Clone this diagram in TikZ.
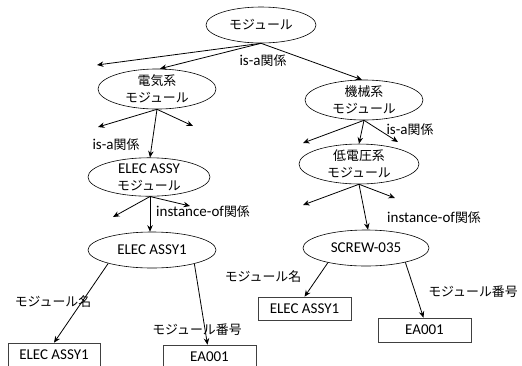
\documentclass[tikz,border=0pt]{standalone}
\usepackage{fontspec}
\setmainfont{Carlito}
\newfontfamily\jpfont[Scale=0.86]{Noto Sans CJK JP}
\newcommand\jt[1]{{\jpfont #1}}
\usetikzlibrary{shapes.geometric,arrows.meta}
\begin{document}
\begin{tikzpicture}[x=1pt,y=-1pt,
  every node/.style={font=\fontsize{15}{17}\selectfont},
  cls/.style={ellipse,draw,line width=0.6pt,inner sep=0pt,align=center},
  slot/.style={rectangle,draw=black!75,line width=0.6pt,minimum width=93pt,minimum height=23pt,inner sep=0pt},
  rel/.style={line width=0.8pt,-{Stealth[length=6.5pt,width=5.5pt]}},
  lbl/.style={inner sep=0pt}]
\useasboundingbox (0,0) rectangle (522,365);

% class hierarchy
\node[cls,minimum width=110pt,minimum height=36pt] (top) at (261,25) {\jt{モジュール}};
\node[cls,minimum width=118pt,minimum height=36pt] (elec) at (157,89) {\jt{電気系}\\\jt{モジュール}};
\node[cls,minimum width=118pt,minimum height=36pt] (mech) at (364,100) {\jt{機械系}\\\jt{モジュール}};
\node[cls,minimum width=122pt,minimum height=34pt] (assy) at (149,177) {ELEC ASSY\\\jt{モジュール}};
\node[cls,minimum width=120pt,minimum height=36pt] (lowv) at (359,164) {\jt{低電圧系}\\\jt{モジュール}};

% instances
\node[cls,minimum width=128pt,minimum height=36pt] (inst1) at (152,250) {ELEC ASSY1};
\node[cls,minimum width=126pt,minimum height=36pt] (screw) at (366,248) {SCREW-035};

% attribute values
\node[slot,minimum width=92pt] (lbox1) at (54,354.5) {ELEC ASSY1};
\node[slot] (lbox2) at (209.5,356.5) {EA001};
\node[slot] (rbox1) at (304.5,308.5) {ELEC ASSY1};
\node[slot,minimum height=24pt] (rbox2) at (424.5,330) {EA001};

% open ends of the subclass fans
\coordinate (topL) at (97,65);
\coordinate (elecL) at (98,127);
\coordinate (elecR) at (193,126);
\coordinate (mechL) at (303,143);
\coordinate (mechR) at (398,142);
\coordinate (assyL) at (113,217);
\coordinate (assyR) at (190,206);
\coordinate (lowvL) at (303,205);
\coordinate (lowvR) at (395,198);

% is-a fans
\draw[rel] (top.south) -- (topL);
\draw[rel] (top.south) -- ([xshift=3pt]elec.north);
\draw[rel] (top.south) -- ([xshift=-2pt]mech.north);
\draw[rel] (elec.south) -- (elecL);
\draw[rel] (elec.south) -- ([xshift=1pt]assy.north);
\draw[rel] (elec.south) -- (elecR);
\draw[rel] (mech.south) -- (mechL);
\draw[rel] (mech.south) -- (lowv.north);
\draw[rel] (mech.south) -- (mechR);

% instance-of fans
\draw[rel] ([xshift=1pt]assy.south) -- (assyL);
\draw[rel] ([xshift=1pt]assy.south) -- ([xshift=-2pt]inst1.north);
\draw[rel] ([xshift=1pt]assy.south) -- (assyR);
\draw[rel] (lowv.south) -- (lowvL);
\draw[rel] (lowv.south) -- (lowvR);
\draw[rel] (lowv.south) -- ([xshift=2pt]screw.north);

% attribute links
\draw[rel] (inst1.197) -- (lbox1.north);
\draw[rel] (inst1.342) -- ([xshift=-2pt]lbox2.north);
\draw[rel] (screw.201) -- (rbox1.north);
\draw[rel] (screw.340) -- ([xshift=-1pt]rbox2.north);

% relation labels
\node[lbl] (l1) at (263,61) {is-a\jt{関係}};
\node[lbl] (l2) at (116,145) {is-a\jt{関係}};
\node[lbl] (l3) at (410,130) {is-a\jt{関係}};
\node[lbl] (l4) at (203,212) {instance-of\jt{関係}};
\node[lbl] (l5) at (434,218) {instance-of\jt{関係}};
\node[lbl] (l6) at (53,302) {\jt{モジュール名}};
\node[lbl] (l7) at (197,330) {\jt{モジュール番号}};
\node[lbl] (l8) at (263,277) {\jt{モジュール名}};
\node[lbl] (l9) at (473,292) {\jt{モジュール番号}};
\end{tikzpicture}
\end{document}
